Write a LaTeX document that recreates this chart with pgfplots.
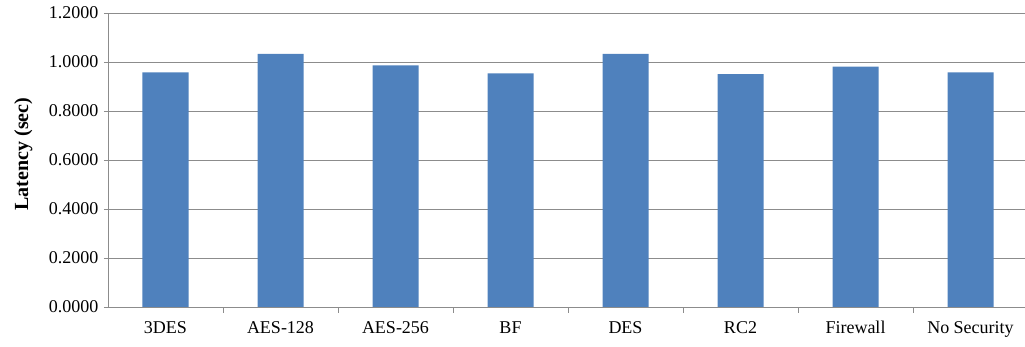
\documentclass[border=0pt]{standalone}
\usepackage{fontspec}
\setmainfont{Liberation Serif}
\usepackage{pgfplots}
\pgfplotsset{compat=1.18}
\definecolor{barblue}{HTML}{4F81BD}
\definecolor{gridgray}{HTML}{8C8C8C}
\begin{document}
\begin{tikzpicture}
\begin{axis}[
  at={(0,0)}, anchor=south west,
  scale only axis,
  width=920pt, height=294pt,
  xmin=-0.5, xmax=7.5,
  ymin=0, ymax=1.2,
  ytick={0,0.2,...,1.2},
  xtick={0,...,7},
  xticklabels={3DES,AES-128,AES-256,BF,DES,RC2,Firewall,No Security},
  minor x tick num=1,
  axis lines*=left,
  axis line style={draw=gridgray, line width=0.8pt},
  ymajorgrids,
  grid style={draw=gridgray, line width=0.8pt},
  tick align=outside,
  major tick length=4pt,
  minor tick length=6pt,
  major x tick style={draw=none},
  minor x tick style={draw=gridgray, line width=0.8pt},
  major y tick style={draw=gridgray, line width=0.8pt},
  ticklabel style={font=\fontsize{18}{20}\selectfont, text=black},
  /pgf/number format/assume math mode=true,
  yticklabel style={xshift=-2pt, /pgf/number format/.cd, fixed, fixed zerofill, precision=4},
  xticklabel style={yshift=-6pt, text height=13pt, text depth=4pt},
  ylabel={\bfseries Latency (sec)},
  ylabel style={font=\fontsize{20}{22}\selectfont, at={(axis description cs:-0.092,0.52)}, anchor=center},
  ybar,
  bar width=46pt,
]
\addplot[fill=barblue, draw=none] coordinates {
  (0,0.958) (1,1.033) (2,0.986) (3,0.954) (4,1.033) (5,0.950) (6,0.981) (7,0.958)
};
\end{axis}
\pgfresetboundingbox
\path[use as bounding box] (-108pt,-40pt) rectangle (917pt,307pt);
\end{tikzpicture}
\end{document}
